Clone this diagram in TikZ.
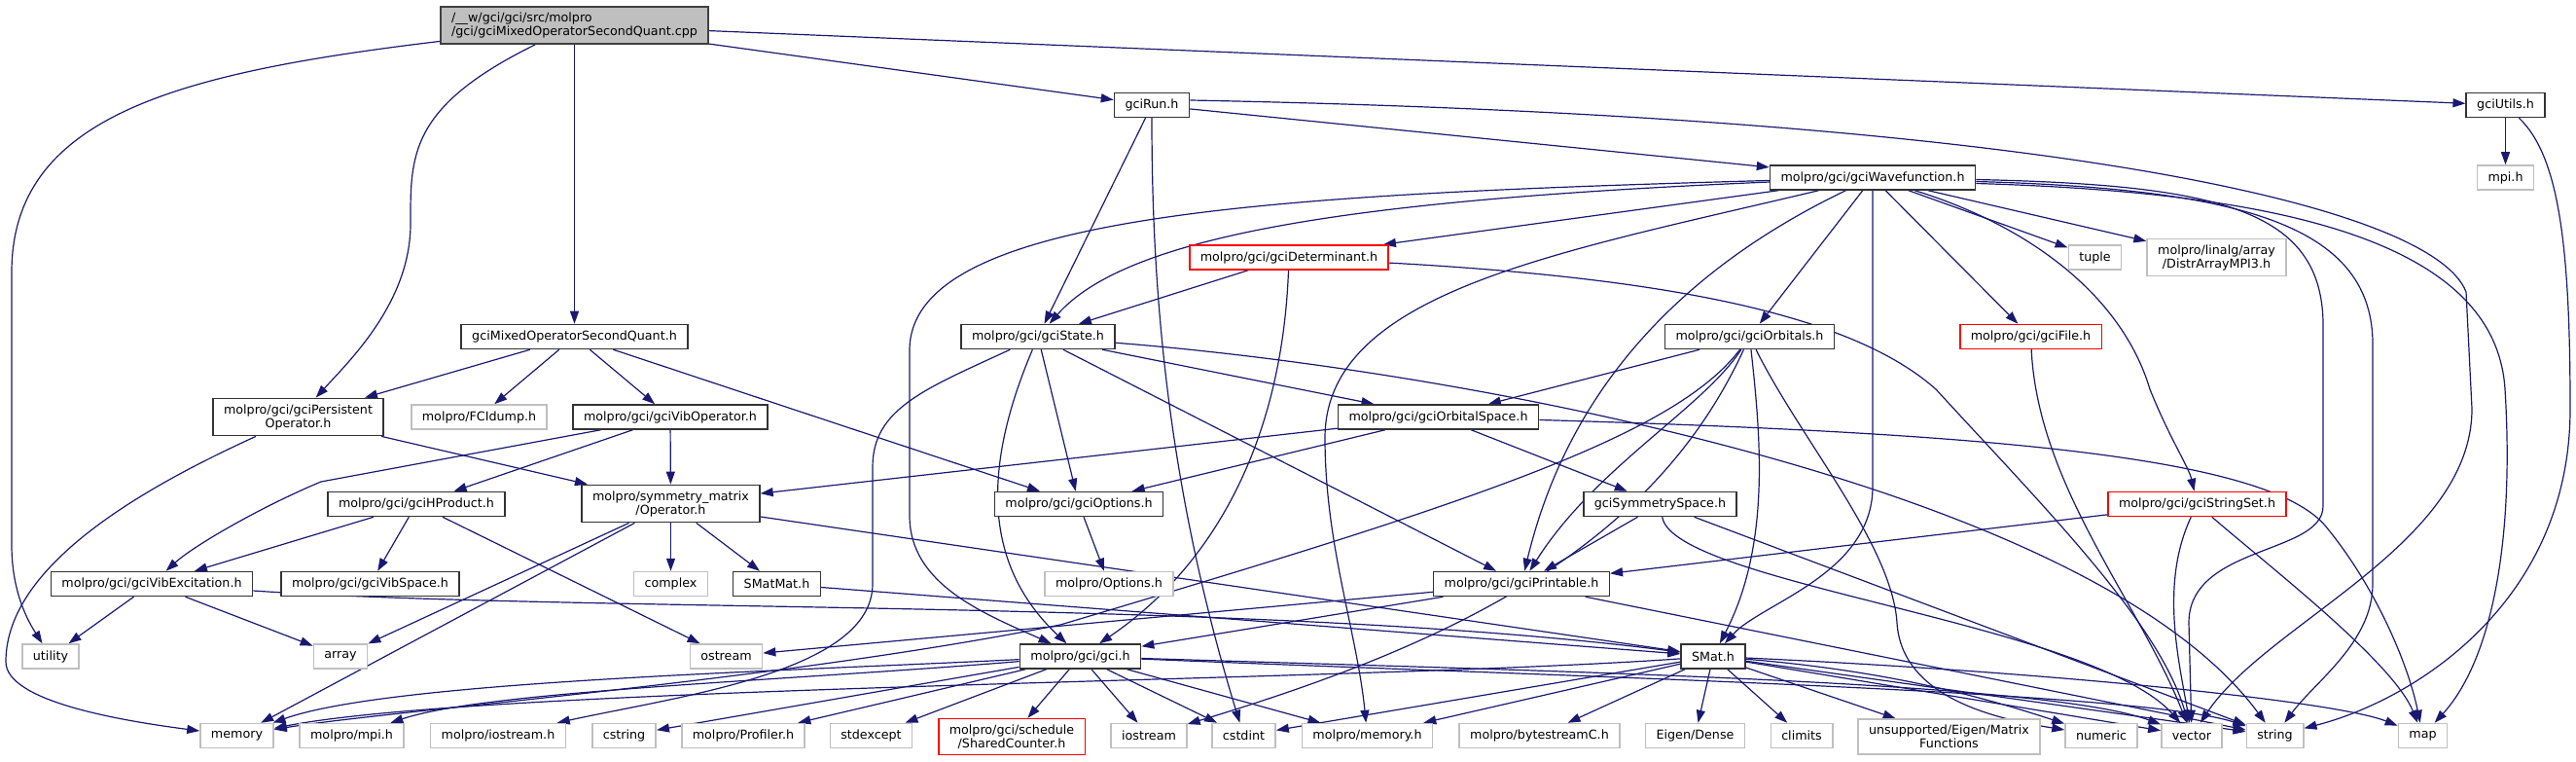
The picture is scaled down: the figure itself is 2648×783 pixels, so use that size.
\documentclass[tikz,border=0pt]{standalone}
\usepackage{fontspec}
\setmainfont{DejaVu Sans}
\usepackage{xcolor}
\usepackage{tikz}
\usetikzlibrary{arrows.meta,positioning,backgrounds}

\definecolor{edgeblue}{HTML}{191970}

\begin{document}
\begin{tikzpicture}[
    x=1pt, y=-1pt,
    file/.style={rectangle, draw=black!80, line width=1.5pt, fill=white, inner xsep=11pt, inner ysep=6pt, minimum height=25pt, align=center, font=\fontsize{12.7}{14}\selectfont},
    sysfile/.style={file, draw=black!25},
    missing/.style={file, draw=red},
    source/.style={file, fill=black!25, draw=black!75, align=left},
    dep/.style={-{Triangle[length=13pt,width=9pt]}, line width=1.2pt, draw=edgeblue}
]
\useasboundingbox (0,0) rectangle (2648,783);

% Source file
\node[source] (root) at (590.5,26) {/\_\_w/gci/gci/src/molpro\\/gci/gciMixedOperatorSecondQuant.cpp};

% Direct includes
\node[file] (run) at (1184,108) {gciRun.h};
\node[file] (utils) at (2575.5,108) {gciUtils.h};
\node[file] (mixop) at (590.5,346) {gciMixedOperatorSecondQuant.h};

% gci headers
\node[file] (wfn) at (1925,182.5) {molpro/gci/gciWavefunction.h};
\node[sysfile] (mpih) at (2575.5,182.5) {mpi.h};
\node[missing] (det) at (1325,264.5) {molpro/gci/gciDeterminant.h};
\node[sysfile] (tuple) at (2153.5,264.5) {tuple};
\node[sysfile] (distr) at (2278.5,264.5) {molpro/linalg/array\\/DistrArrayMPI3.h};
\node[file] (state) at (1067,346) {molpro/gci/gciState.h};
\node[file] (orbs) at (1798.5,346) {molpro/gci/gciOrbitals.h};
\node[missing] (gfile) at (2087.5,346) {molpro/gci/gciFile.h};
\node[file] (persop) at (306.5,428.5) {molpro/gci/gciPersistent\\Operator.h};
\node[sysfile] (fcidump) at (492.5,428.5) {molpro/FCIdump.h};
\node[file] (vibop) at (689,428.5) {molpro/gci/gciVibOperator.h};
\node[file] (orbspace) at (1478.5,428.5) {molpro/gci/gciOrbitalSpace.h};
\node[file] (hprod) at (428,518) {molpro/gci/gciHProduct.h};
\node[file] (symop) at (689.5,517.5) {molpro/symmetry\_matrix\\/Operator.h};
\node[file] (options) at (1109,518) {molpro/gci/gciOptions.h};
\node[file] (symspace) at (1706.5,518) {gciSymmetrySpace.h};
\node[missing] (strset) at (2258.5,518) {molpro/gci/gciStringSet.h};
\node[file] (vibexc) at (156,600) {molpro/gci/gciVibExcitation.h};
\node[file] (vibspace) at (380.5,600) {molpro/gci/gciVibSpace.h};
\node[sysfile] (complex) at (689.5,600) {complex};
\node[file] (smatmat) at (798.5,600) {SMatMat.h};
\node[sysfile] (moptions) at (1140,600) {molpro/Options.h};
\node[file] (printable) at (1564,600) {molpro/gci/gciPrintable.h};
\node[sysfile] (utility) at (52,674.5) {utility};
\node[sysfile] (array) at (350,674.5) {array};
\node[sysfile] (ostream) at (746.5,674.5) {ostream};
\node[file] (gcih) at (1110.5,674.5) {molpro/gci/gci.h};
\node[file] (smat) at (1761,674.5) {SMat.h};

% Bottom row
\node[sysfile] (memory) at (243.5,756) {memory};
\node[sysfile] (mmpi) at (361.5,756) {molpro/mpi.h};
\node[sysfile] (miostream) at (512,756) {molpro/iostream.h};
\node[sysfile] (cstring) at (641.5,756) {cstring};
\node[sysfile] (profiler) at (764,756) {molpro/Profiler.h};
\node[sysfile] (stdexcept) at (895.5,756) {stdexcept};
\node[missing] (shared) at (1040,757) {molpro/gci/schedule\\/SharedCounter.h};
\node[sysfile] (iostream) at (1181,756) {iostream};
\node[sysfile] (cstdint) at (1278.5,756) {cstdint};
\node[sysfile] (mmemory) at (1405.5,756) {molpro/memory.h};
\node[sysfile] (bytestream) at (1582.5,756) {molpro/bytestreamC.h};
\node[sysfile] (eigdense) at (1742.5,756) {Eigen/Dense};
\node[sysfile] (climits) at (1852,756) {climits};
\node[sysfile] (matfun) at (2003.5,757) {unsupported/Eigen/Matrix\\Functions};
\node[sysfile] (numeric) at (2160,756) {numeric};
\node[sysfile] (vector) at (2253,756) {vector};
\node[sysfile] (string) at (2338.5,756) {string};
\node[sysfile] (map) at (2490.5,756) {map};

\begin{scope}[on background layer]
% From the source file
\draw[dep] (root) .. controls (180,75) and (12,120) .. (12,280) -- (12,560) .. controls (12,610) and (30,640) .. (utility);
\draw[dep] (root) .. controls (420,110) and (422,160) .. (422,230) .. controls (422,310) and (360,370) .. (persop);
\draw[dep] (root) -- (mixop);
\draw[dep] (root) -- (run);
\draw[dep] (root) -- (utils);

% gciRun.h and gciUtils.h
\draw[dep] (run) -- (state);
\draw[dep] (run) -- (wfn);
\draw[dep] (run) .. controls (1184,300) and (1200,500) .. (cstdint);
\draw[dep] ([yshift=5pt]run.east) .. controls (2100,120) and (2500,210) .. (2535,300) -- (2541,420) .. controls (2541,560) and (2330,640) .. (vector);
\draw[dep] (utils) -- (mpih);
\draw[dep] (utils) .. controls (2630,160) and (2642,250) .. (2642,420) .. controls (2642,620) and (2480,720) .. (string);

% gciWavefunction.h
\draw[dep] (wfn) -- (det);
\draw[dep] (wfn) .. controls (1400,205) and (1160,240) .. (state);
\draw[dep] (wfn) .. controls (1300,200) and (935,220) .. (935,360) -- (935,530) .. controls (935,600) and (1010,630) .. (gcih);
\draw[dep] (wfn) -- (orbs);
\draw[dep] (wfn) -- (gfile);
\draw[dep] (wfn) -- (tuple);
\draw[dep] (wfn) -- (distr);
\draw[dep] (wfn) .. controls (2080,230) and (2180,300) .. (2210,400) .. controls (2230,450) and (2250,480) .. (strset);
\draw[dep] (wfn) -- (1925,500) .. controls (1925,590) and (1810,620) .. (smat);
\draw[dep] (wfn) .. controls (1600,260) and (1362,300) .. (1362,450) .. controls (1362,560) and (1395,650) .. (mmemory);
\draw[dep] (wfn) .. controls (1680,300) and (1600,450) .. (printable);
\draw[dep] ([yshift=-2pt]wfn.east) .. controls (2280,190) and (2385,215) .. (2388,330) -- (2388,520) .. controls (2388,570) and (2250,560) .. (2250,640) -- (vector);
\draw[dep] ([yshift=-4pt]wfn.east) .. controls (2300,194) and (2436,230) .. (2439,350) -- (2439,600) .. controls (2439,660) and (2380,700) .. (string);
\draw[dep] ([yshift=-6pt]wfn.east) .. controls (2320,197) and (2565,240) .. (2575,400) .. controls (2585,560) and (2560,680) .. (map);

% gciDeterminant.h
\draw[dep] (det) -- (state);
\draw[dep] (det) .. controls (1318,450) and (1250,580) .. (gcih);
\draw[dep] (det) .. controls (1700,285) and (1900,320) .. (1990,400) .. controls (2100,520) and (2220,640) .. (vector);

% gciMixedOperatorSecondQuant.h
\draw[dep] (mixop) -- (persop);
\draw[dep] (mixop) -- (fcidump);
\draw[dep] (mixop) -- (vibop);
\draw[dep] (mixop) -- (options);

% gciState.h
\draw[dep] (state) -- (orbspace);
\draw[dep] (state) -- (options);
\draw[dep] (state) -- (printable);
\draw[dep] (state) .. controls (1010,480) and (1010,580) .. (gcih);
\draw[dep] (state) .. controls (950,400) and (897,420) .. (897,480) -- (897,600) .. controls (897,690) and (700,715) .. (miostream);
\draw[dep] (state) .. controls (1500,380) and (2150,500) .. (string);

% gciOrbitals.h and gciFile.h
\draw[dep] (orbs) -- (orbspace);
\draw[dep] (orbs) .. controls (1750,420) and (1640,480) .. (printable);
\draw[dep] (orbs) .. controls (1810,450) and (1820,560) .. (smat);
\draw[dep] (orbs) .. controls (1850,450) and (1945,560) .. (1950,640) .. controls (1955,720) and (2060,740) .. (numeric);
\draw[dep] (orbs) .. controls (1700,560) and (1500,660) .. (iostream);
\draw[dep] (orbs) .. controls (1720,450) and (1500,520) .. (1090,642) .. controls (800,700) and (400,730) .. (memory);
\draw[dep] (gfile) .. controls (2095,500) and (2200,620) .. (vector);

% Operators
\draw[dep] (persop) -- (symop);
\draw[dep] (persop) .. controls (150,500) and (6,580) .. (6,680) .. controls (6,720) and (120,740) .. (memory);
\draw[dep] (vibop) -- (330,495) .. controls (270,520) and (200,560) .. (vibexc);
\draw[dep] (vibop) -- (hprod);
\draw[dep] (vibop) -- (symop);
\draw[dep] (orbspace) -- (symop);
\draw[dep] (orbspace) -- (options);
\draw[dep] (orbspace) -- (symspace);
\draw[dep] (orbspace) .. controls (2050,445) and (2330,470) .. (2390,540) .. controls (2440,600) and (2475,680) .. (map);
\draw[dep] (hprod) -- (vibexc);
\draw[dep] (hprod) -- (vibspace);
\draw[dep] (hprod) -- (ostream);
\draw[dep] (symop) -- (array);
\draw[dep] (symop) -- (memory);
\draw[dep] (symop) -- (complex);
\draw[dep] (symop) -- (smatmat);
\draw[dep] (symop) -- (smat);
\draw[dep] (options) -- (moptions);

% Spaces and strings
\draw[dep] (symspace) -- (printable);
\draw[dep] (symspace) .. controls (1720,600) and (2150,640) .. (vector);
\draw[dep] (symspace) -- (string);
\draw[dep] (strset) -- (printable);
\draw[dep] (strset) .. controls (2220,600) and (2240,680) .. (vector);
\draw[dep] (strset) .. controls (2330,580) and (2460,680) .. (map);
\draw[dep] (vibexc) -- (utility);
\draw[dep] (vibexc) -- (array);
\draw[dep] (vibexc) .. controls (600,630) and (1300,615) .. (smat);
\draw[dep] (smatmat) -- (smat);
\draw[dep] (printable) -- (ostream);
\draw[dep] (printable) -- (gcih);
\draw[dep] (printable) -- (string);

% gci.h
\draw[dep] (gcih) .. controls (800,690) and (400,700) .. (memory);
\draw[dep] (gcih) .. controls (800,700) and (500,710) .. (mmpi);
\draw[dep] (gcih) -- (cstring);
\draw[dep] (gcih) -- (profiler);
\draw[dep] (gcih) -- (stdexcept);
\draw[dep] (gcih) -- (shared);
\draw[dep] (gcih) -- (iostream);
\draw[dep] (gcih) -- (cstdint);
\draw[dep] (gcih) -- (mmemory);
\draw[dep] (gcih) .. controls (1600,690) and (2100,700) .. (vector);
\draw[dep] (gcih) .. controls (1600,695) and (2200,710) .. (string);

% SMat.h
\draw[dep] (smat) .. controls (1400,700) and (500,705) .. (memory);
\draw[dep] (smat) -- (mmemory);
\draw[dep] (smat) -- (cstdint);
\draw[dep] (smat) -- (bytestream);
\draw[dep] (smat) -- (eigdense);
\draw[dep] (smat) -- (climits);
\draw[dep] (smat) -- (matfun);
\draw[dep] (smat) .. controls (1950,690) and (2050,720) .. (numeric);
\draw[dep] (smat) -- (vector);
\draw[dep] (smat) -- (string);
\draw[dep] (smat) .. controls (2100,690) and (2400,720) .. (map);
\end{scope}

\end{tikzpicture}
\end{document}
